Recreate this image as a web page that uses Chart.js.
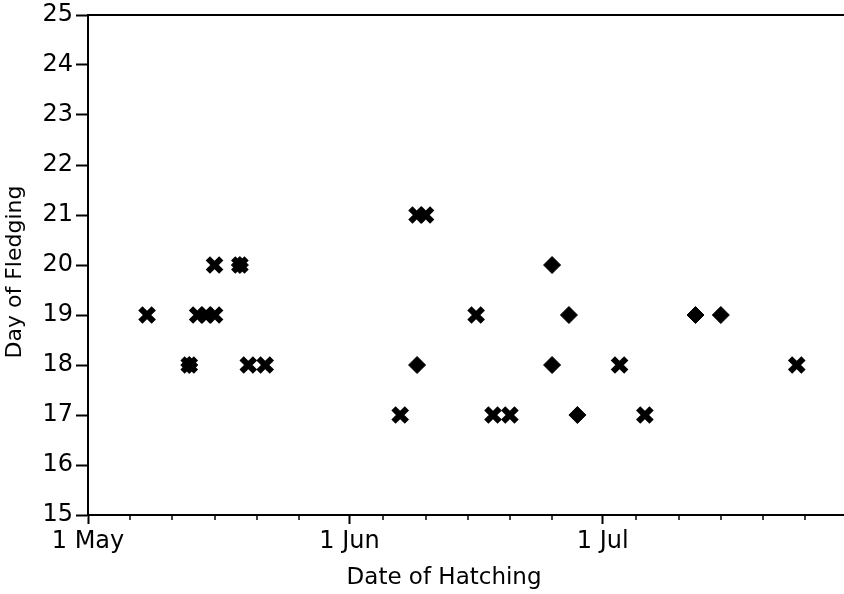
<!DOCTYPE html>
<html>
<head>
<meta charset="utf-8">
<script src="https://cdn.jsdelivr.net/npm/chart.js@4.4.1/dist/chart.umd.min.js"></script>
<style>
    html, body { margin: 0; padding: 0; overflow: hidden; background: #fff; }
    #wrap { position: absolute; left: 0; top: 0; width: 844px; height: 594px; }
    canvas { display: block; }
</style>
</head>
<body>
<div id="wrap"><canvas id="myChart"></canvas></div>
<script>
// days counted from 1 May (0 = 1 May)
var crossDays = [7, 12, 13, 14, 15, 15, 18, 19, 21, 37, 39, 40, 46, 48, 50, 63, 66, 84];
var crossFledge = [19, 18, 19, 19, 19, 20, 20, 18, 18, 17, 21, 21, 19, 17, 17, 18, 17, 18];
var diamondDays = [12, 18, 39, 55, 55, 57, 58, 72, 75];
var diamondFledge = [18, 20, 18, 20, 18, 19, 17, 19, 19];

var monthTicks = [0, 31, 61];
var monthLabels = ['1 May', '1 Jun', '1 Jul'];
var minorTicks = [5, 10, 15, 20, 25, 35, 40, 45, 50, 55, 65, 70, 75, 80, 85];

function toPoints(xs, ys) {
    return xs.map(function (x, i) { return { x: x, y: ys[i] }; });
}

// petites graduations entre les mois
var minorTickPlugin = {
    id: 'minorTicks',
    afterDraw: function (chart) {
        var ctx = chart.ctx;
        var xs = chart.scales.x;
        var bottom = chart.chartArea.bottom;
        ctx.save();
        ctx.strokeStyle = '#000';
        ctx.lineWidth = 1.5;
        minorTicks.forEach(function (v) {
            var px = Math.round(xs.getPixelForValue(v));
            ctx.beginPath();
            ctx.moveTo(px, bottom);
            ctx.lineTo(px, bottom + 5);
            ctx.stroke();
        });
        ctx.restore();
    }
};

var ctx = document.getElementById('myChart').getContext('2d');
var myChart = new Chart(ctx, {
    type: 'scatter',
    data: {
        datasets: [{
            label: 'cross',
            data: toPoints(crossDays, crossFledge),
            pointStyle: 'crossRot',
            pointRadius: 9.5,
            pointBorderWidth: 6,
            borderColor: '#000',
            backgroundColor: '#000'
        }, {
            label: 'diamond',
            data: toPoints(diamondDays, diamondFledge),
            pointStyle: 'rectRot',
            pointRadius: 8.5,
            pointBorderWidth: 1,
            borderColor: '#000',
            backgroundColor: '#000'
        }]
    },
    options: {
        responsive: true,
        maintainAspectRatio: false,
        animation: false,
        layout: { autoPadding: false, padding: { top: 14, right: 0, left: 0, bottom: 0 } },
        plugins: {
            legend: { display: false },
            tooltip: { enabled: false }
        },
        scales: {
            x: {
                type: 'linear',
                position: 'bottom',
                min: 0,
                max: 89.6,
                afterBuildTicks: function (s) {
                    s.ticks = monthTicks.map(function (v) { return { value: v }; });
                },
                afterFit: function (s) { s.height = 79; },
                ticks: {
                    autoSkip: false,
                    maxRotation: 0,
                    padding: 3,
                    color: '#000',
                    font: { family: 'DejaVu Sans', size: 24 },
                    callback: function (v) {
                        var i = monthTicks.indexOf(v);
                        return i >= 0 ? monthLabels[i] : '';
                    }
                },
                grid: { drawOnChartArea: false, tickLength: 9, tickWidth: 2, tickColor: '#000' },
                border: { color: '#000', width: 2 },
                title: {
                    display: true,
                    text: 'Date of Hatching      ',
                    color: '#000',
                    font: { family: 'DejaVu Sans', size: 23 },
                    padding: { top: 0, bottom: 2 }
                }
            },
            xTop: {
                type: 'linear',
                position: 'top',
                min: 0,
                max: 89.6,
                afterFit: function (s) { s.height = 0; },
                ticks: { display: false },
                grid: { drawOnChartArea: false, drawTicks: false },
                border: { color: '#000', width: 2 }
            },
            y: {
                min: 15,
                max: 25,
                afterFit: function (s) { s.width = 88; },
                ticks: {
                    stepSize: 1,
                    padding: 3,
                    color: '#000',
                    font: { family: 'DejaVu Sans', size: 24, lineHeight: 1 }
                },
                grid: { drawOnChartArea: false, tickLength: 12, tickWidth: 2, tickColor: '#000' },
                border: { color: '#000', width: 2 },
                title: {
                    display: true,
                    text: 'Day of Fledging  ',
                    color: '#000',
                    font: { family: 'DejaVu Sans', size: 22 },
                    padding: { top: 2, bottom: 2 }
                }
            }
        }
    },
    plugins: [minorTickPlugin]
});
</script>
</body>
</html>
